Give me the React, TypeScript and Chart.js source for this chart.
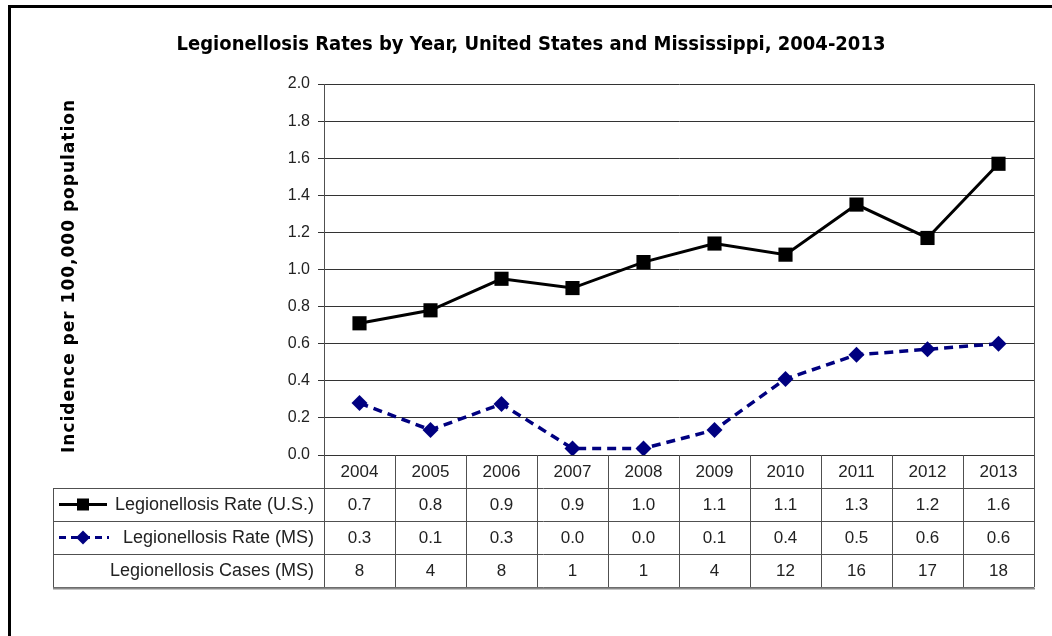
import React, { useEffect, useRef } from "react";
import { Chart, registerables } from "chart.js";

Chart.register(...registerables);

const years = ["2004", "2005", "2006", "2007", "2008", "2009", "2010", "2011", "2012", "2013"];
const usRate = [0.71, 0.78, 0.95, 0.9, 1.04, 1.14, 1.08, 1.35, 1.17, 1.57];
const msRate = [0.28, 0.135, 0.275, 0.035, 0.035, 0.135, 0.41, 0.54, 0.57, 0.6];
const usRateTable = ["0.7", "0.8", "0.9", "0.9", "1.0", "1.1", "1.1", "1.3", "1.2", "1.6"];
const msRateTable = ["0.3", "0.1", "0.3", "0.0", "0.0", "0.1", "0.4", "0.5", "0.6", "0.6"];
const msCases = ["8", "4", "8", "1", "1", "4", "12", "16", "17", "18"];
const rowLabels = ["Legionellosis Rate (U.S.)", "Legionellosis Rate (MS)", "Legionellosis Cases (MS)"];
const titleText = "Legionellosis Rates by Year, United States and Mississippi, 2004-2013";
const yTitleText = "Incidence per 100,000 population";

const US_COLOR = "#000000";
const MS_COLOR = "#000080";
const LINE_COLOR = "#505050";
const TEXT_FONT = "'Liberation Sans', Arial, sans-serif";

const tablePlugin = {
  id: "tablePlugin",
  afterDraw(chart: any) {
    const ctx = chart.ctx as CanvasRenderingContext2D;
    const area = chart.chartArea;
    const xs = chart.scales.x;
    const n = years.length;
    const colW = (area.right - area.left) / n;
    const headerTop = area.bottom;
    const rowH = 33;
    const labelLeft = 53;
    const rows = [usRateTable, msRateTable, msCases];
    const tableBottom = headerTop + rowH * 4;

    ctx.save();
    // page frame
    ctx.fillStyle = "#000";
    ctx.fillRect(8, 5, 1044, 3);
    ctx.fillRect(8, 5, 3, 631);

    // title
    ctx.fillStyle = "#000";
    ctx.font = "bold 20px 'Liberation Sans Narrow', 'DejaVu Sans Condensed', sans-serif";
    ctx.textAlign = "center";
    ctx.textBaseline = "middle";
    ctx.fillText(titleText, 531, 45);

    // y title
    ctx.save();
    ctx.translate(70, 276);
    ctx.rotate(-Math.PI / 2);
    ctx.font = "bold 17px 'DejaVu Sans', sans-serif";
    (ctx as any).letterSpacing = "1px";
    ctx.fillText(yTitleText, 0, 0);
    (ctx as any).letterSpacing = "0px";
    ctx.restore();

    // table lines
    ctx.strokeStyle = LINE_COLOR;
    ctx.lineWidth = 1;
    const hline = (x1: number, x2: number, y: number) => {
      ctx.beginPath();
      ctx.moveTo(x1, Math.round(y) + 0.5);
      ctx.lineTo(x2, Math.round(y) + 0.5);
      ctx.stroke();
    };
    const vline = (x: number, y1: number, y2: number) => {
      ctx.beginPath();
      ctx.moveTo(Math.round(x) + 0.5, y1);
      ctx.lineTo(Math.round(x) + 0.5, y2);
      ctx.stroke();
    };
    for (let r = 1; r <= 4; r++) hline(labelLeft, area.right, headerTop + rowH * r);
    for (let i = 0; i <= n; i++) vline(area.left + colW * i, headerTop, tableBottom);
    vline(area.left, area.top, headerTop);
    vline(area.right, area.top, tableBottom);
    vline(labelLeft, headerTop + rowH, tableBottom);
    ctx.strokeStyle = "#8a8a8a";
    ctx.lineWidth = 2;
    hline(labelLeft, area.right + 1, tableBottom + 1);

    // header years
    ctx.fillStyle = "#222";
    ctx.font = `17px ${TEXT_FONT}`;
    ctx.textAlign = "center";
    ctx.textBaseline = "middle";
    years.forEach((y, i) => {
      ctx.fillText(y, xs.getPixelForValue(i), headerTop + rowH / 2 + 1);
    });
    rows.forEach((row, r) => {
      const cy = headerTop + rowH * (r + 1) + rowH / 2 + 1;
      row.forEach((v, i) => ctx.fillText(v, xs.getPixelForValue(i), cy));
    });

    // row labels
    ctx.textAlign = "right";
    ctx.font = `18px ${TEXT_FONT}`;
    rowLabels.forEach((lab, r) => {
      const cy = headerTop + rowH * (r + 1) + rowH / 2 + 1;
      ctx.fillText(lab, area.left - 10, cy);
    });

    // legend keys
    const k1 = headerTop + rowH * 1.5;
    ctx.strokeStyle = US_COLOR;
    ctx.lineWidth = 3;
    ctx.setLineDash([]);
    ctx.beginPath();
    ctx.moveTo(59, k1);
    ctx.lineTo(107, k1);
    ctx.stroke();
    ctx.fillStyle = US_COLOR;
    ctx.fillRect(77, k1 - 6, 12, 12);

    const k2 = headerTop + rowH * 2.5;
    ctx.strokeStyle = MS_COLOR;
    ctx.setLineDash([7, 5]);
    ctx.beginPath();
    ctx.moveTo(59, k2);
    ctx.lineTo(109, k2);
    ctx.stroke();
    ctx.setLineDash([]);
    ctx.fillStyle = MS_COLOR;
    ctx.beginPath();
    ctx.moveTo(83, k2 - 7);
    ctx.lineTo(90, k2);
    ctx.lineTo(83, k2 + 7);
    ctx.lineTo(76, k2);
    ctx.closePath();
    ctx.fill();

    ctx.restore();
  },
};

export default function App() {
  const ref = useRef<HTMLCanvasElement>(null);
  useEffect(() => {
    if (!ref.current) return;
    const chart = new Chart(ref.current, {
      type: "line",
      data: {
        labels: years,
        datasets: [
          {
            label: rowLabels[0],
            data: usRate,
            borderColor: US_COLOR,
            backgroundColor: US_COLOR,
            borderWidth: 3,
            pointStyle: "rect",
            pointRadius: 10,
            pointBorderWidth: 0,
            tension: 0,
          },
          {
            label: rowLabels[1],
            data: msRate,
            borderColor: MS_COLOR,
            backgroundColor: MS_COLOR,
            borderWidth: 3.5,
            borderDash: [9, 6],
            pointStyle: "rectRot",
            pointRadius: 8,
            pointBorderWidth: 0,
            tension: 0,
          },
        ],
      },
      options: {
        responsive: false,
        animation: false,
        devicePixelRatio: 1,
        layout: { padding: { left: 0, top: 84, right: 1052 - 1034, bottom: 636 - 455 } },
        plugins: {
          legend: { display: false },
          title: { display: false },
          tooltip: { enabled: false },
        },
        scales: {
          x: { display: false, offset: true },
          y: {
            min: 0,
            max: 2,
            ticks: {
              stepSize: 0.2,
              color: "#222",
              font: { family: TEXT_FONT, size: 16 },
              padding: 8,
              callback: (v: any) => Number(v).toFixed(1),
            },
            grid: { color: "#333", lineWidth: 1, tickLength: 6, tickColor: "#333" },
            border: { color: LINE_COLOR, width: 1 },
            afterFit: (s: any) => {
              s.width = 324;
            },
          },
        },
      },
      plugins: [tablePlugin],
    });
    return () => chart.destroy();
  }, []);
  return (
    <div style={{ position: "fixed", left: 0, top: 0, width: 1052, height: 636, background: "#fff" }}>
      <canvas ref={ref} width={1052} height={636} style={{ width: 1052, height: 636, display: "block" }} />
    </div>
  );
}
